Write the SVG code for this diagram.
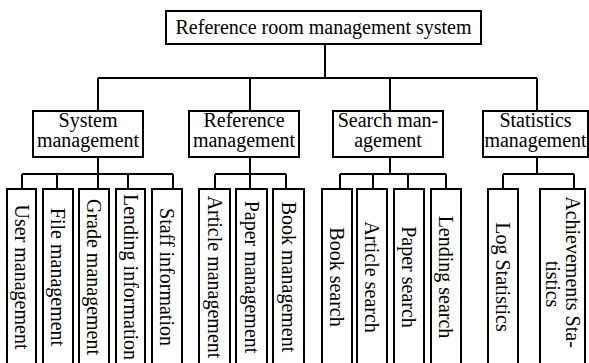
<svg xmlns="http://www.w3.org/2000/svg" width="589" height="363" viewBox="0 0 589 363">
<style>
rect{fill:#fff;stroke:#000;stroke-width:2}
text{font-family:"Liberation Serif","Times New Roman",serif;font-size:20px;fill:#000;text-anchor:middle}
.v{dominant-baseline:central}
#connectors path{fill:none;stroke:#000;stroke-width:2}
</style>
<rect x="0" y="0" width="589" height="363" style="stroke:none"/>
<g id="connectors">
<path d="M325 44V78M98 78H537M98 78V111M250 78V111M390 78V111M537 78V111"/>
<path d="M98 157V174M22 174H173M22 174V189M57 174V189M98 174V189M128 174V189M173 174V189"/>
<path d="M250 157V174M215 174H286M215 174V189M250 174V189M286 174V189"/>
<path d="M390 157V174M340 174H446M340 174V189M373 174V189M408 174V189M446 174V189"/>
<path d="M537 157V174M503 174H574M503 174V189M574 174V189"/>
</g>
<g id="root"><rect x="166" y="11" width="315" height="33"/><text x="323.5" y="34">Reference room management system</text></g>
<g id="sys"><rect x="33" y="111" width="110" height="46"/><text x="88" y="127">System</text><text x="88" y="147">management</text></g>
<g id="ref"><rect x="189" y="111" width="110" height="46"/><text x="244" y="127">Reference</text><text x="244" y="147">management</text></g>
<g id="search"><rect x="333" y="111" width="110" height="46"/><text x="388" y="127">Search man-</text><text x="388" y="147">agement</text></g>
<g id="stat"><rect x="483" y="111" width="105" height="46"/><text x="535.5" y="127">Statistics</text><text x="535.5" y="147">management</text></g>
<g id="l1"><rect x="7" y="189" width="29" height="178"/><text class="v" transform="translate(21.5,277) rotate(90)">User management</text></g>
<g id="l2"><rect x="43" y="189" width="30" height="178"/><text class="v" transform="translate(58,277) rotate(90)">File management</text></g>
<g id="l3"><rect x="79" y="189" width="30" height="178"/><text class="v" transform="translate(94,277) rotate(90)">Grade management</text></g>
<g id="l4"><rect x="116" y="189" width="29" height="178"/><text class="v" transform="translate(130.5,277) rotate(90)">Lending information</text></g>
<g id="l5"><rect x="152" y="189" width="30" height="178"/><text class="v" transform="translate(167,277) rotate(90)">Staff information</text></g>
<g id="l6"><rect x="199" y="189" width="31" height="178"/><text class="v" transform="translate(214.5,277) rotate(90)">Article management</text></g>
<g id="l7"><rect x="236" y="189" width="31" height="178"/><text class="v" transform="translate(251.5,277) rotate(90)">Paper management</text></g>
<g id="l8"><rect x="273" y="189" width="31" height="178"/><text class="v" transform="translate(288.5,277) rotate(90)">Book management</text></g>
<g id="l9"><rect x="322" y="189" width="30" height="178"/><text class="v" transform="translate(337,277) rotate(90)">Book search</text></g>
<g id="l10"><rect x="357" y="189" width="30" height="178"/><text class="v" transform="translate(372,277) rotate(90)">Article search</text></g>
<g id="l11"><rect x="394" y="189" width="30" height="178"/><text class="v" transform="translate(409,277) rotate(90)">Paper search</text></g>
<g id="l12"><rect x="431" y="189" width="30" height="178"/><text class="v" transform="translate(446,277) rotate(90)">Lending search</text></g>
<g id="l13"><rect x="488" y="189" width="30" height="178"/><text class="v" transform="translate(503,277) rotate(90)">Log Statistics</text></g>
<g id="l14"><rect x="540" y="189" width="45" height="178"/><text class="v" transform="translate(573,272) rotate(90)">Achievements Sta-</text><text class="v" transform="translate(553,284) rotate(90)">tistics</text></g>
</svg>
